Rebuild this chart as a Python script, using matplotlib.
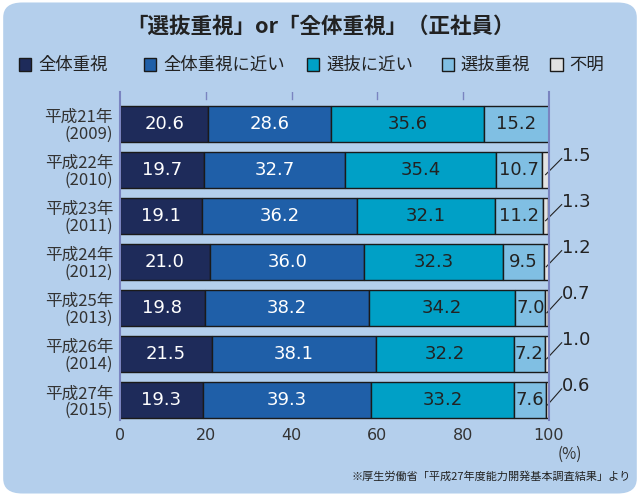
import matplotlib.pyplot as plt
import numpy as np
from matplotlib.patches import FancyBboxPatch

plt.rcParams['font.family'] = 'Noto Sans CJK JP'

# %% データ
years = ['平成21年\n(2009)', '平成22年\n(2010)', '平成23年\n(2011)', '平成24年\n(2012)',
         '平成25年\n(2013)', '平成26年\n(2014)', '平成27年\n(2015)']
zentai = [20.6, 19.7, 19.1, 21.0, 19.8, 21.5, 19.3]
zentai_chikai = [28.6, 32.7, 36.2, 36.0, 38.2, 38.1, 39.3]
senbatsu_chikai = [35.6, 35.4, 32.1, 32.3, 34.2, 32.2, 33.2]
senbatsu = [15.2, 10.7, 11.2, 9.5, 7.0, 7.2, 7.6]
fumei = [0.0, 1.5, 1.3, 1.2, 0.7, 1.0, 0.6]

series = [zentai, zentai_chikai, senbatsu_chikai, senbatsu, fumei]
names = ['全体重視', '全体重視に近い', '選抜に近い', '選抜重視', '不明']
colors = ['#1e2b5a', '#1f5fa8', '#00a0c6', '#80bfe3', '#e2e2e2']
txt_colors = ['white', 'white', '#222222', '#222222', '#222222']

bg = '#b4cfec'
fig = plt.figure(figsize=(6.4, 4.96), dpi=100)
fig.patch.set_facecolor('white')
fig.patches.append(FancyBboxPatch((0.005, 0.005), 0.99, 0.99, boxstyle='round,pad=0,rounding_size=0.03',
                                  transform=fig.transFigure, facecolor=bg, edgecolor='none', zorder=-10))

ax = fig.add_axes([0.1875, 0.153, 0.670, 0.662])
ax.set_facecolor(bg)
y = np.arange(len(years))
left = np.zeros(len(years))
for i, s in enumerate(series):
    s = np.array(s)
    ax.barh(y, s, left=left, height=0.78, color=colors[i], edgecolor='#1a1a1a', linewidth=1)
    for j, v in enumerate(s):
        if i < 4:
            ax.text(left[j] + v / 2, y[j], f'{v:.1f}', ha='center', va='center',
                    fontsize=13, color=txt_colors[i], family='DejaVu Sans')
        elif v > 0:
            x0 = left[j] + v / 2
            ax.plot([x0, 103], [y[j] + 0.1, y[j] - 0.25], color='#222222', lw=0.8, clip_on=False)
            ax.text(103, y[j] - 0.3, f'{v:.1f}', ha='left', va='center', fontsize=13,
                    color='#222222', family='DejaVu Sans', clip_on=False)
    left += s

ax.set_xlim(0, 100)
ax.set_ylim(6.43, -0.7)
ax.set_xticks([0, 20, 40, 60, 80, 100])
ax.set_xticklabels(['0', '20', '40', '60', '80', '100'], fontsize=11.5, family='DejaVu Sans', color='#333333')
ax.text(102, 6.98, '(%)', fontsize=11, color='#333333', va='top', clip_on=False)
ax.set_yticks(y)
ax.set_yticklabels(years, fontsize=12, color='#333333', linespacing=1.0)
ax.tick_params(axis='y', length=0, pad=5)
ax.tick_params(axis='x', length=0, pad=6)
for xv in [20, 40, 60, 80]:
    ax.plot([xv, xv], [-0.7, -0.55], color='#7a84c0', lw=1)
for sp in ['top', 'bottom']:
    ax.spines[sp].set_visible(False)
for sp in ['left', 'right']:
    ax.spines[sp].set_color('#7a84c0')
    ax.spines[sp].set_linewidth(1.5)

fig.text(0.5, 0.947, '「選抜重視」or「全体重視」（正社員）', ha='center', va='center',
         fontsize=15.5, fontweight='bold', color='#222222')

# 凡例
lx = [0.03, 0.225, 0.48, 0.69, 0.86]
for xx, c, n in zip(lx, colors, names):
    fig.patches.append(plt.Rectangle((xx, 0.857), 0.019, 0.026, transform=fig.transFigure,
                                     facecolor=c, edgecolor='#1a1a1a', lw=1))
    fig.text(xx + 0.03, 0.869, n, fontsize=12.5, va='center', color='#222222')

fig.text(0.985, 0.04, '※厚生労働省「平成27年度能力開発基本調査結果」より', ha='right', va='center',
         fontsize=8, color='#222222')

fig.savefig('out.png', dpi=100, facecolor=fig.get_facecolor())
